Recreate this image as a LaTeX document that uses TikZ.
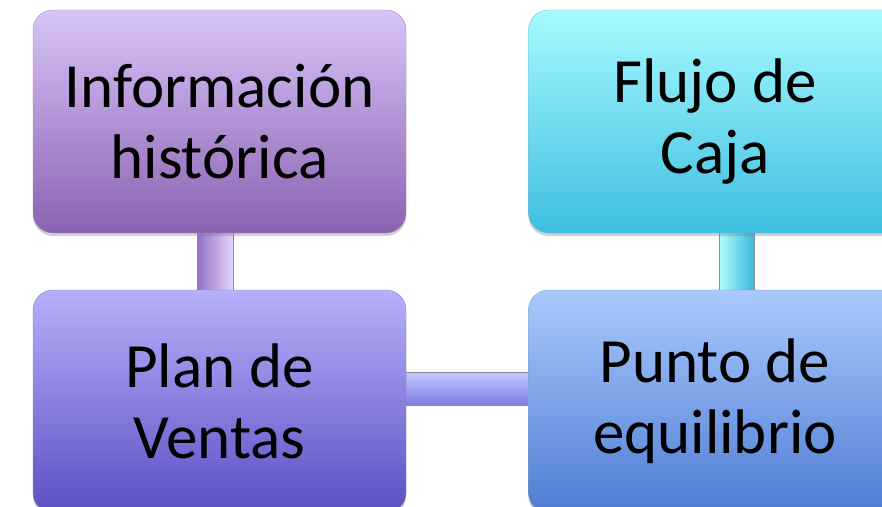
\documentclass[tikz,border=0pt]{standalone}
\usepackage{fontspec}
\setmainfont{Carlito}
\usetikzlibrary{shadows,backgrounds}
\definecolor{tlTop}{HTML}{D8C4F8}
\definecolor{tlBot}{HTML}{8A62B2}
\definecolor{blTop}{HTML}{B6B0FA}
\definecolor{blBot}{HTML}{5A50C4}
\definecolor{trTop}{HTML}{A6FAFF}
\definecolor{trBot}{HTML}{3EBEE0}
\definecolor{brTop}{HTML}{AACAFD}
\definecolor{brBot}{HTML}{4E7CD4}
\definecolor{lbarA}{HTML}{9270C2}
\definecolor{lbarB}{HTML}{A888D6}
\definecolor{lbarC}{HTML}{E6D4FF}
\definecolor{rbarA}{HTML}{B0FFFF}
\definecolor{rbarB}{HTML}{4ECCEA}
\definecolor{rbarC}{HTML}{38B8DA}
\definecolor{hbarA}{HTML}{C4CAFF}
\definecolor{hbarB}{HTML}{7E7CE4}
\tikzset{
  box/.style={rounded corners=20pt, minimum width=373pt, minimum height=223pt,
    align=center, font=\fontsize{63}{71}\selectfont, text=black,
    drop shadow={shadow xshift=0pt, shadow yshift=-3pt, opacity=0.35}},
  bar/.style={draw=black!45, line width=0.6pt}
}
\begin{document}
\begin{tikzpicture}[x=1pt,y=-1pt]
\useasboundingbox (0,0) rectangle (882,506);
\clip (0,0) rectangle (882,506);
\node[box, top color=tlTop, bottom color=tlBot, draw=tlBot!70!black!60] (info) at (219.5,121.5) {Información\\histórica};
\node[box, top color=trTop, bottom color=trBot, draw=trBot!70!black!60] (flujo) at (715,121.5) {Flujo de\\Caja};
\node[box, top color=blTop, bottom color=blBot, draw=blBot!70!black!60] (plan) at (219.5,401.5) {Plan de\\Ventas};
\node[box, top color=brTop, bottom color=brBot, draw=brBot!70!black!60] (punto) at (715,401.5) {Punto de\\equilibrio};
\begin{scope}[on background layer]
  \fill[white] (0,0) rectangle (882,506);
  \shade[bar, left color=lbarA, middle color=lbarB, right color=lbarC]
    ([xshift=-22.5pt,yshift=2pt]info.south) rectangle ([xshift=13.5pt,yshift=-2pt]plan.north);
  \shade[bar, left color=rbarA, middle color=rbarB, right color=rbarC]
    ([xshift=4pt,yshift=2pt]flujo.south) rectangle ([xshift=39pt,yshift=-2pt]punto.north);
  \shade[bar, top color=hbarA, bottom color=hbarB]
    ([xshift=-2pt,yshift=29.5pt]plan.east) rectangle ([xshift=2pt,yshift=-3.5pt]punto.west);
\end{scope}
\end{tikzpicture}
\end{document}
